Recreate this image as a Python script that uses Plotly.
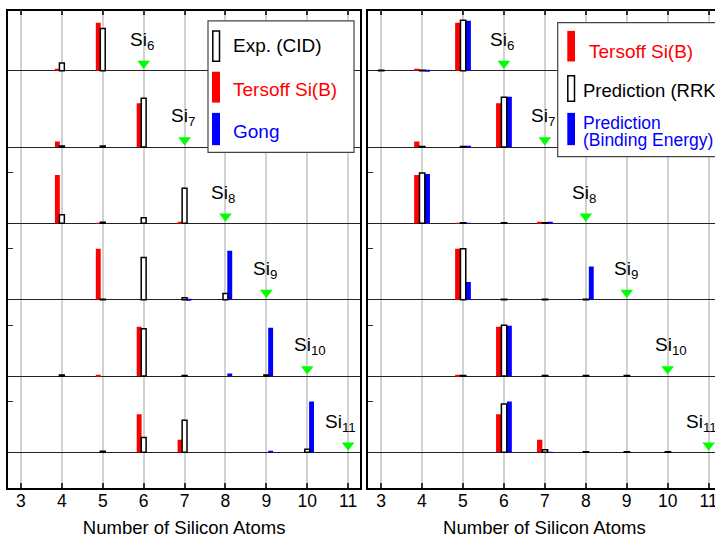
import plotly.graph_objects as go

# ---------------- data ----------------
sizes = [3, 4, 5, 6, 7, 8, 9, 10, 11]          # fragment size (x)
parents = [6, 7, 8, 9, 10, 11]                  # parent cluster Si_n (rows, top to bottom)
parent_labels = ["Si<sub>6</sub>", "Si<sub>7</sub>", "Si<sub>8</sub>",
                 "Si<sub>9</sub>", "Si<sub>10</sub>", "Si<sub>11</sub>"]

# fractional fragment yields, one row per parent, columns follow `sizes`
exp_cid = [
    [0, 0.15, 0.83, 0, 0, 0, 0, 0, 0],
    [0, 0.02, 0.02, 0.96, 0, 0, 0, 0, 0],
    [0, 0.17, 0.02, 0.11, 0.69, 0, 0, 0, 0],
    [0, 0, 0.01, 0.83, 0.04, 0.12, 0, 0, 0],
    [0, 0.02, 0, 0.93, 0.01, 0, 0.02, 0, 0],
    [0, 0, 0.02, 0.29, 0.63, 0, 0, 0.06, 0],
]
tersoff = [
    [0, 0.04, 0.94, 0, 0, 0, 0, 0, 0],
    [0, 0.11, 0, 0.86, 0, 0, 0, 0, 0],
    [0, 0.95, 0.01, 0, 0.02, 0, 0, 0, 0],
    [0, 0, 1.00, 0, 0, 0, 0, 0, 0],
    [0, 0, 0.01, 0.97, 0, 0, 0, 0, 0],
    [0, 0, 0, 0.75, 0.25, 0, 0, 0, 0],
]
gong = [
    [0, 0, 0, 0, 0, 0, 0, 0, 0],
    [0, 0, 0, 0, 0, 0, 0, 0, 0],
    [0, 0, 0, 0, 0, 0, 0, 0, 0],
    [0, 0, 0, 0, 0.02, 0.96, 0, 0, 0],
    [0, 0, 0, 0, 0, 0.05, 0.95, 0, 0],
    [0, 0, 0, 0, 0, 0, 0.02, 1.00, 0],
]
rrk = [
    [0.01, 0.01, 0.99, 0, 0, 0, 0, 0, 0],
    [0, 0.01, 0.01, 0.98, 0, 0, 0, 0, 0],
    [0, 0.99, 0.01, 0.01, 0.01, 0, 0, 0, 0],
    [0, 0, 1.00, 0.01, 0.01, 0.01, 0, 0, 0],
    [0, 0, 0.01, 1.00, 0.01, 0.01, 0.01, 0, 0],
    [0, 0, 0, 0.95, 0.05, 0.01, 0.01, 0.01, 0],
]
binding = [
    [0, 0.01, 0.98, 0, 0, 0, 0, 0, 0],
    [0, 0, 0.01, 0.99, 0, 0, 0, 0, 0],
    [0, 0.97, 0.01, 0, 0.02, 0, 0, 0, 0],
    [0, 0, 0.35, 0, 0, 0.65, 0, 0, 0],
    [0, 0, 0, 0.99, 0, 0, 0, 0, 0],
    [0, 0, 0, 1.00, 0.01, 0, 0, 0, 0],
]

xtick_labels = [str(s) for s in sizes]
x_title = "Number of Silicon Atoms"

# ---------------- layout helpers ----------------
W, H = 722, 538
ROW_STEP = 1.5
n_rows = len(parents)
row_base = [ROW_STEP * (n_rows - 1 - i) for i in range(n_rows)]   # Si6 on top
YR = [-0.704, row_base[0] + 1.18]
XR = [2.69, 11.29]
FONT = "Liberation Sans, Arial, Helvetica, sans-serif"


def px(x):
    return x / W


def py(y):
    return 1 - y / H


def flatten(mat):
    xs, ys, bs = [], [], []
    for i, row in enumerate(mat):
        for s, v in zip(sizes, row):
            if v > 0:
                xs.append(s)
                ys.append(v)
                bs.append(row_base[i])
    return xs, ys, bs


fig = go.Figure()


def add_bars(mat, name, xa, ya, fill, outline, offset, width):
    xs, ys, bs = flatten(mat)
    fig.add_trace(go.Bar(
        x=xs, y=ys, base=bs, name=name, xaxis=xa, yaxis=ya,
        offset=offset, width=width,
        marker=dict(color=fill,
                    line=dict(color=outline if outline else fill,
                              width=1.5 if outline else 0)),
        showlegend=False,
    ))


# left panel
add_bars(tersoff, "Tersoff Si(B)", "x", "y", "#ff0000", None, -0.17, 0.12)
add_bars(gong, "Gong", "x", "y", "#0000ff", None, 0.045, 0.12)
add_bars(exp_cid, "Exp. (CID)", "x", "y", "#ffffff", "#000000", -0.06, 0.12)
# right panel
add_bars(tersoff, "Tersoff Si(B)", "x2", "y2", "#ff0000", None, -0.19, 0.13)
add_bars(binding, "Prediction (Binding Energy)", "x2", "y2", "#0000ff", None, 0.075, 0.12)
add_bars(rrk, "Prediction (RRK)", "x2", "y2", "#ffffff", "#000000", -0.06, 0.13)

# parent markers (green triangles) + labels
label_shift = [-1.5, -1.5, -2, -1, 3, -7.5]
for xa, ya in (("x", "y"), ("x2", "y2")):
    fig.add_trace(go.Scatter(
        x=parents, y=[b + 0.14 for b in row_base], xaxis=xa, yaxis=ya,
        mode="markers", showlegend=False,
        marker=dict(symbol="triangle-down", size=11, color="#00ff00", line=dict(width=0)),
    ))
    for p, b, lab, sh in zip(parents, row_base, parent_labels, label_shift):
        fig.add_annotation(x=p, y=b + 0.62, xref=xa, yref=ya, text=lab,
                           showarrow=False, xanchor="center", yanchor="middle",
                           xshift=sh, yshift=-2,
                           font=dict(family=FONT, size=19, color="#000000"))

axis_common = dict(
    range=XR, tickvals=sizes, ticktext=xtick_labels,
    ticks="inside", ticklen=5, tickwidth=1.5, tickcolor="#333333",
    showline=True, linecolor="#000000", linewidth=1.5, mirror="ticks",
    showgrid=True, gridcolor="#d2d2d2", gridwidth=1.5, zeroline=False,
    tickfont=dict(family=FONT, size=17.5, color="#000000"),
    ticklabelstandoff=-4,
    title=dict(text=x_title, font=dict(family=FONT, size=18.5, color="#000000"), standoff=14),
    fixedrange=True,
)
yaxis_common = dict(
    range=YR, tickvals=row_base, showticklabels=False, ticks="",
    showgrid=True, gridcolor="#222222", gridwidth=1,
    showline=True, linecolor="#000000", linewidth=1.5, mirror=True,
    zeroline=False,
    minor=dict(tickmode="array", tickvals=[b + 1 for b in row_base[2:]],
               ticks="inside", ticklen=5,
               tickcolor="#333333", tickwidth=1.2, showgrid=False),
    fixedrange=True,
)

ydom = [1 - 490 / H, 1 - 10.7 / H]
fig.update_layout(
    width=W, height=H, autosize=False,
    margin=dict(l=0, r=0, t=0, b=0),
    paper_bgcolor="#ffffff", plot_bgcolor="#ffffff",
    barmode="overlay",
    showlegend=False,
    xaxis=dict(domain=[px(8.3), px(360)], anchor="y", **axis_common),
    yaxis=dict(domain=ydom, anchor="x", **yaxis_common),
    xaxis2=dict(domain=[px(368.3), px(720.5)], anchor="y2", **axis_common),
    yaxis2=dict(domain=ydom, anchor="x2", **yaxis_common),
)

# ---------------- hand-drawn legends ----------------
shapes = []
annos = []


def rect(x0, y0, x1, y1, fill, line, lw):
    shapes.append(dict(type="rect", xref="paper", yref="paper",
                       x0=px(x0), x1=px(x1), y0=py(y1), y1=py(y0),
                       fillcolor=fill, line=dict(color=line, width=lw), layer="above"))


def text(x, y, s, color, size):
    annos.append(dict(xref="paper", yref="paper", x=px(x), y=py(y), text=s,
                      showarrow=False, xanchor="left", yanchor="middle",
                      font=dict(family=FONT, size=size, color=color)))


# left legend
rect(208, 21, 354, 153, "#ffffff", "#444444", 1.2)
rect(212.8, 31, 219.5, 61.5, "#ffffff", "#000000", 1.5)
rect(212, 72, 220, 103, "#ff0000", "#ff0000", 0)
rect(212, 113.3, 220, 145.7, "#0000ff", "#0000ff", 0)
text(231, 45.5, "Exp. (CID)", "#000000", 19)
text(231, 89.5, "Tersoff Si(B)", "#ff0000", 19)
text(231, 131.5, "Gong", "#0000ff", 19)

# right legend (runs past the window edge)
rect(557.7, 22.7, 760, 157.3, "#ffffff", "#444444", 1.2)
rect(567.3, 31, 575, 61.7, "#ff0000", "#ff0000", 0)
rect(567.8, 76, 574.5, 101.7, "#ffffff", "#000000", 1.5)
rect(567.3, 113.3, 575, 145.7, "#0000ff", "#0000ff", 0)
text(586.5, 51.8, "Tersoff Si(B)", "#ff0000", 19)
text(581, 91, "Prediction (RRK)", "#000000", 18.5)
text(581, 123, "Prediction", "#0000ff", 17.5)
text(581, 140.5, "(Binding Energy)", "#0000ff", 17.5)

fig.update_layout(shapes=shapes)
for a in annos:
    fig.add_annotation(**a)

fig.write_html("out.html",
               config={"displayModeBar": False},
               post_script="document.body.style.margin='0';document.body.style.overflow='hidden';")
